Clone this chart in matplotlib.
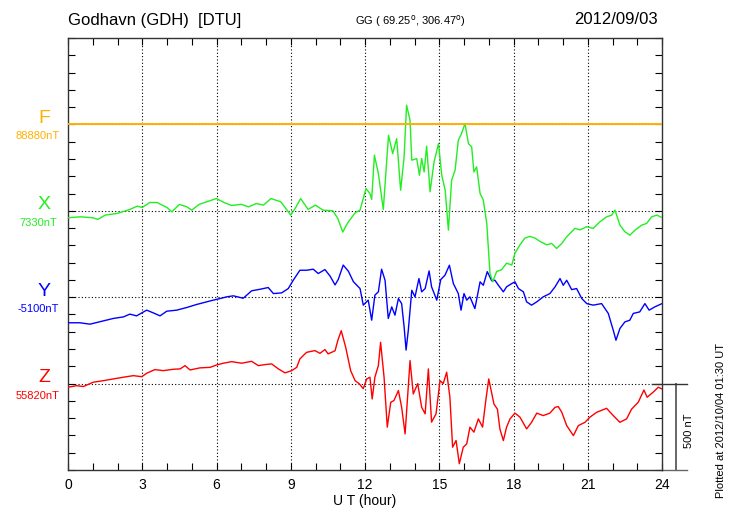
import matplotlib
matplotlib.use("Agg")
import matplotlib.pyplot as plt
from matplotlib.ticker import MultipleLocator

plt.rcParams['font.family'] = ['Liberation Sans', 'DejaVu Sans']

## data: deviation from baseline (nT) vs UT hour ##
x_hours = [0, 0.5, 1, 1.2, 1.5, 2, 2.5, 2.8, 3, 3.3, 3.6, 4, 4.2, 4.5, 4.8, 5, 5.3, 5.6, 6, 6.3,
           6.6, 7, 7.3, 7.6, 7.9, 8.2, 8.6, 9, 9.2, 9.4, 9.7, 10, 10.3, 10.7, 10.9, 11.1, 11.3, 11.6,
           11.8, 12.04, 12.2, 12.27, 12.38, 12.54, 12.74, 12.95, 13.12, 13.28, 13.44, 13.58, 13.68,
           13.82, 13.89, 14.09, 14.2, 14.29, 14.39, 14.49, 14.63, 14.79, 14.97, 15.1, 15.24, 15.37,
           15.5, 15.64, 15.77, 15.9, 16.04, 16.18, 16.31, 16.4, 16.51, 16.65, 16.78, 16.92, 17.05,
           17.16, 17.32, 17.52, 17.72, 17.93, 18.06, 18.26, 18.46, 18.66, 18.87, 19.07, 19.34, 19.54,
           19.74, 19.95, 20.15, 20.35, 20.48, 20.69, 20.96, 21.22, 21.49, 21.76, 21.97, 22.1, 22.3,
           22.5, 22.7, 22.91, 23.18, 23.38, 23.58, 23.79, 24]
x_dev = [-40, -35, -40, -50, -25, -15, 8, 27, 19, 48, 48, 19, -6, 37, 23, 4, 37, 52, 71, 48,
         31, 37, 23, 42, 33, 71, 52, -25, 19, 71, 8, 33, 4, 0, -44, -123, -70, -12,
         4, 129, 100, 66, 322, 216, 8, 437, 331, 418, 119, 312, 611,
         524, 293, 302, 206, 302, 225, 374, 110, 283, 389, 206, 119, -112,
         177, 235, 408, 447, 505, 389, 370, 225, 254, 100, 62, -73, -362,
         -410, -351, -341, -303, -314, -245, -197, -158, -148, -158, -177, -197, -189,
         -218, -189, -150, -121, -102, -110, -92, -102, -64, -35, -25, 4, -83,
         -121, -141, -112, -83, -73, -35, -25, -39]

y_hours = [0, 0.48, 0.89, 1.43, 1.83, 2.24, 2.5, 2.77, 3.18, 3.45, 3.72, 3.99, 4.39, 4.79, 5.2,
           5.6, 5.87, 6.14, 6.41, 6.68, 7.08, 7.42, 7.76, 8.09, 8.3, 8.63, 8.9, 9.1, 9.37, 9.64,
           9.91, 10.11, 10.38, 10.59, 10.79, 10.92, 11.12, 11.33, 11.53, 11.8, 11.93, 12.13, 12.27,
           12.4, 12.54, 12.67, 12.81, 12.94, 13.08, 13.21, 13.35, 13.48, 13.58, 13.66, 13.75, 13.89,
           14.02, 14.18, 14.29, 14.43, 14.59, 14.69, 14.9, 15.06, 15.23, 15.41, 15.57, 15.77, 15.88,
           16.0, 16.11, 16.24, 16.44, 16.65, 16.78, 16.94, 17.12, 17.25, 17.39, 17.59, 17.72, 17.93,
           18.06, 18.2, 18.4, 18.53, 18.73, 18.94, 19.2, 19.47, 19.68, 19.88, 20.01, 20.15, 20.35,
           20.55, 20.76, 20.96, 21.22, 21.56, 21.83, 22.03, 22.14, 22.3, 22.5, 22.7, 22.84, 23.1,
           23.31, 23.48, 23.71, 24]
y_dev = [-148, -148, -156, -137, -123, -114, -98, -108, -75, -91, -108, -81, -75, -60, -42,
         -27, -17, -8, 2, 8, -6, 37, 46, 56, 21, 25, 50, 98, 156, 156,
         162, 137, 160, 122, 71, 103, 186, 150, 90, 50, -46, -17, -133,
         12, 31, 162, 98, -123, -56, -104, -8, -37, -171, -306, -191, 40,
         2, 108, 31, 50, 152, 60, -17, 102, 127, 185, 79, 21, -75,
         21, -17, 2, -66, 89, 69, 148, 95, 98, 69, 31, 60, 79,
         89, 50, 31, -27, -46, -27, 2, 21, 60, 108, 69, 98, 44,
         50, -8, -37, -46, -37, -94, -191, -249, -181, -143, -133, -94, -85,
         -37, -75, -56, -37]

z_hours = [0, 0.35, 0.62, 1.02, 1.43, 1.83, 2.24, 2.64, 2.98, 3.18, 3.51, 3.85, 4.26, 4.53, 4.73,
           4.93, 5.33, 5.74, 6.01, 6.28, 6.61, 7.02, 7.42, 7.69, 7.96, 8.23, 8.5, 8.77, 9.04, 9.24,
           9.37, 9.64, 9.98, 10.18, 10.38, 10.51, 10.79, 10.9, 11.04, 11.22, 11.42, 11.6, 11.76,
           11.93, 12.07, 12.2, 12.29, 12.4, 12.54, 12.63, 12.77, 12.9, 13.04, 13.17, 13.35, 13.48,
           13.62, 13.82, 13.95, 14.13, 14.29, 14.43, 14.56, 14.69, 14.87, 15.03, 15.16, 15.3, 15.43,
           15.54, 15.68, 15.81, 15.97, 16.11, 16.24, 16.4, 16.58, 16.75, 16.88, 17.0, 17.21, 17.35,
           17.45, 17.59, 17.72, 17.86, 18.06, 18.26, 18.53, 18.73, 18.94, 19.2, 19.47, 19.68, 19.81,
           19.95, 20.15, 20.42, 20.62, 20.89, 21.09, 21.36, 21.76, 22.03, 22.3, 22.57, 22.77, 23.04,
           23.27, 23.4, 23.64, 23.85, 24]
z_dev = [-21, -12, -17, 8, 17, 27, 37, 46, 40, 60, 81, 75, 83, 85, 104,
         79, 91, 94, 108, 118, 127, 118, 129, 104, 110, 114, 85, 62, 75, 94,
         143, 181, 191, 175, 197, 172, 190, 249, 306, 210, 75, 17, 0,
         -29, 27, 37, -89, 37, 104, 239, 37, -252, -108, -98, -40, -137,
         -291, 133, -60, 0, -137, -175, 85, -223, -175, 17, 0, 66, -79,
         -368, -329, -464, -368, -349, -252, -281, -204, -252, -98, 27, -118, -148,
         -262, -330, -252, -204, -171, -194, -262, -224, -171, -185, -171, -137, -133,
         -166, -243, -301, -243, -224, -194, -166, -143, -185, -224, -204, -148, -108,
         -37, -79, -50, -21, -31]

f_hours = [0, 24]
f_dev = [5, 5]

components = ['Z', 'Y', 'X', 'F']
baselines = ['55820nT', '-5100nT', '7330nT', '88880nT']
colors = ['#ff0000', '#0000ff', '#22ee22', '#ffb000']
series = {'Z': (z_hours, z_dev), 'Y': (y_hours, y_dev), 'X': (x_hours, x_dev), 'F': (f_hours, f_dev)}
offsets = [500, 1000, 1500, 2000]

fig = plt.figure(figsize=(7.3, 5.2), dpi=100)
ax = fig.add_axes([68/730, 50/520, 594/730, 432/520])

# grid
for h in range(3, 24, 3):
    ax.axvline(h, color='black', ls=(0, (1, 2)), lw=0.8, zorder=1)
for off in offsets:
    ax.axhline(off, color='black', ls=(0, (1, 2)), lw=0.8, zorder=1)

# curves
for comp, base, col, off in zip(components, baselines, colors, offsets):
    hrs, dev = series[comp]
    lw = 1.4 if comp == 'F' else 1.0
    ax.plot(hrs, [d + off for d in dev], color=col, lw=lw, zorder=3)
    ypx = 470 - off * 432 / 2500
    fig.text(44/730, 1 - (ypx - 6)/520, comp, color=col, fontsize=14, ha='center', va='center')
    fig.text(38/730, 1 - (ypx + 12)/520, base, color=col, fontsize=8, ha='center', va='center')

ax.set_xlim(0, 24)
ax.set_ylim(0, 2500)
ax.xaxis.set_major_locator(MultipleLocator(3))
ax.xaxis.set_minor_locator(MultipleLocator(1))
ax.yaxis.set_major_locator(MultipleLocator(100))
ax.set_yticklabels([])
ax.tick_params(axis='x', which='both', direction='in', top=True, length=5, width=0.8,
               labelsize=10, pad=6)
ax.tick_params(axis='y', which='both', direction='in', right=True, length=5, width=0.8)
for s in ax.spines.values():
    s.set_linewidth(1.0)
    s.set_color('#333333')
ax.set_xlabel('U T (hour)', fontsize=10, labelpad=1)

# scale bar 500 nT
ax.plot([24.57, 24.57], [0, 500], color='#666666', lw=1.4, clip_on=False)
ax.plot([23.6, 25.0], [500, 500], color='#333333', lw=1.0, clip_on=False)
ax.plot([24, 25.0], [0, 0], color='#666666', lw=1.0, clip_on=False)
ax.text(25.1, 230, '500 nT', rotation=90, fontsize=8, ha='center', va='center', clip_on=False)

# titles
fig.text(68/730, 1 - 20/520, 'Godhavn (GDH)  [DTU]', fontsize=12, ha='left', va='center')
fig.text(410/730, 1 - 21/520, 'GG ( 69.25$^\\mathrm{o}$, 306.47$^\\mathrm{o}$)', fontsize=8,
         ha='center', va='center')
fig.text(658/730, 1 - 20/520, '2012/09/03', fontsize=12, ha='right', va='center')
fig.text(721/730, 1 - 420/520, 'Plotted at 2012/10/04 01:30 UT', rotation=90, fontsize=8,
         ha='center', va='center')

fig.savefig('out.png', dpi=100)
